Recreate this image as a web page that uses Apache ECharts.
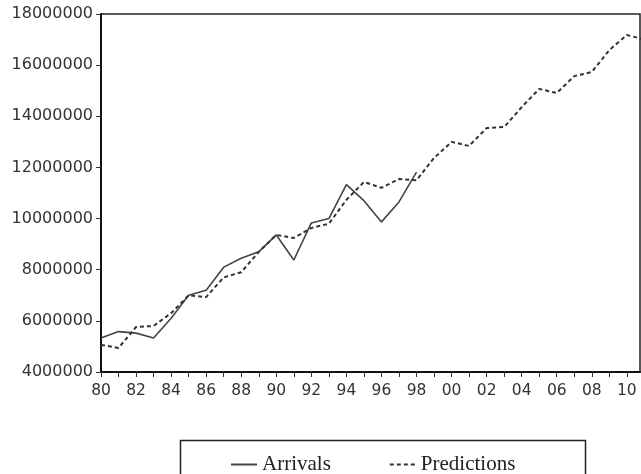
<!DOCTYPE html>
<html><head><meta charset="utf-8">
<script src="https://cdn.jsdelivr.net/npm/echarts@6/dist/echarts.min.js"></script>
<style>html,body{margin:0;padding:0;background:#fff}#c{width:641px;height:474px}</style>
</head><body><div id="c"></div>
<script>
var years = [1980,1981,1982,1983,1984,1985,1986,1987,1988,1989,1990,1991,1992,1993,1994,1995,1996,1997,1998,1999,2000,2001,2002,2003,2004,2005,2006,2007,2008,2009,2010,2011];
var arrivals = [5330000,5580000,5520000,5330000,6100000,7000000,7200000,8100000,8450000,8700000,9360000,8380000,9830000,10000000,11330000,10700000,9870000,10650000,11820000];
var predictions = [5060000,4940000,5760000,5800000,6300000,7000000,6930000,7700000,7900000,8700000,9360000,9240000,9630000,9800000,10730000,11430000,11200000,11550000,11500000,12370000,13000000,12840000,13540000,13580000,14360000,15070000,14910000,15570000,15730000,16590000,17180000,17000000];
var yTicks = [4000000,6000000,8000000,10000000,12000000,14000000,16000000,18000000];

function pairs(vals){ return vals.map(function(v,i){ return [years[i], v]; }); }

var chart = echarts.init(document.getElementById('c'));
chart.setOption({
  animation: false,
  backgroundColor: '#fff',
  grid: { left: 101, top: 14, right: 1, bottom: 102, show: true, borderColor: '#222', borderWidth: 1.5, backgroundColor: 'transparent' },
  xAxis: {
    type: 'value', min: 1980, max: 2010.75, interval: 1,
    axisLine: { show: true, onZero: false, lineStyle: { color: '#111', width: 2 } },
    axisTick: { show: true, length: 5, lineStyle: { color: '#333' } },
    splitLine: { show: false },
    axisLabel: {
      margin: 11, fontFamily: 'DejaVu Sans', fontSize: 15.5, color: '#333', showMaxLabel: false,
      formatter: function(v){ v = Math.round(v); if (v % 2) return ''; var s = String(v % 100); return s.length < 2 ? '0' + s : s; }
    }
  },
  yAxis: {
    type: 'value', min: yTicks[0], max: yTicks[yTicks.length-1], interval: 2000000,
    axisLine: { show: true, lineStyle: { color: '#111', width: 2 } },
    axisTick: { show: true, length: 5, lineStyle: { color: '#333' } },
    splitLine: { show: false },
    axisLabel: { margin: 8, fontFamily: 'DejaVu Sans', fontSize: 16, color: '#333', formatter: function(v){ return String(v); } }
  },
  legend: {
    left: 225, top: 449, itemWidth: 26, itemHeight: 12, itemGap: 58,
    itemStyle: { opacity: 0 },
    textStyle: { fontFamily: 'Liberation Serif', fontSize: 21, color: '#222' },
    data: ['Arrivals', 'Predictions']
  },
  graphic: [{ type: 'rect', left: 178, top: 438, shape: { width: 405, height: 50 }, style: { fill: 'none', stroke: '#222', lineWidth: 1.5 } }],
  series: [
    { name: 'Arrivals', type: 'line', data: pairs(arrivals), symbol: 'none', clip: true,
      lineStyle: { color: '#444', width: 1.6, type: 'solid' }, itemStyle: { color: '#444' } },
    { name: 'Predictions', type: 'line', data: pairs(predictions), symbol: 'none', clip: true,
      lineStyle: { color: '#333', width: 2, type: [4, 3] }, itemStyle: { color: '#333' } }
  ]
});
</script></body></html>
